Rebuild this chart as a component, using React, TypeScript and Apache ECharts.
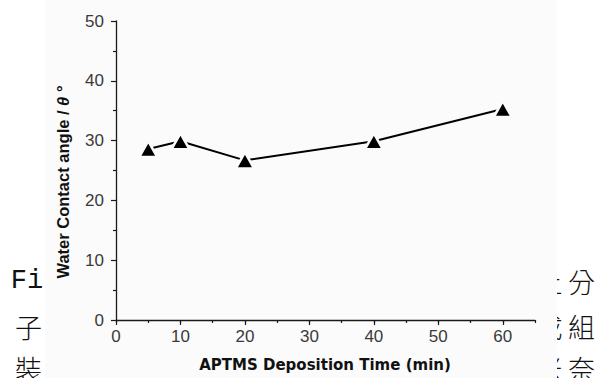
import React, { useEffect, useRef } from "react";
import * as echarts from "echarts";

// ---- data ----
const depositionTimes = [5, 10, 20, 40, 60];
const contactAngles = [28.6, 29.9, 26.7, 29.9, 35.3];
const xMin = 0;
const xMax = 65;
const yMin = 0;
const yMax = 50;
const xTitle = "APTMS Deposition Time (min)";
const yTitlePre = "Water Contact angle / ";
const yTitleTheta = "θ";
const yTitlePost = " °";
// surrounding document text (partly hidden behind the chart picture)
const leftLines = ["Fi", "子", "裝"];
const rightLines = ["分", "組", "奈"];
const hiddenRight = ["上", "成", "米"];

const BG = "#fbfbfb";
const AXIS = "#1a1a1a";

export default function App() {
  const ref = useRef<HTMLDivElement>(null);
  useEffect(() => {
    if (!ref.current) return;
    const chart = echarts.init(ref.current, null, { renderer: "svg" });
    const rowY = [281, 326, 368];
    const cjkFont = '300 27px "Noto Sans CJK TC"';
    const graphics: any[] = [
      {
        type: "rect",
        z: -1,
        silent: true,
        shape: { x: 45, y: 0, width: 512, height: 378 },
        style: { fill: BG },
      },
    ];
    hiddenRight.forEach((t, i) => {
      graphics.push({
        type: "text",
        z: -2,
        silent: true,
        x: 549,
        y: rowY[i],
        style: {
          text: t,
          font: cjkFont,
          fill: "#111",
          align: "center",
          verticalAlign: "middle",
        },
      });
    });
    leftLines.forEach((t, i) => {
      graphics.push({
        type: "text",
        z: 10,
        silent: true,
        x: i === 0 ? 27 : 28.5,
        y: rowY[i],
        style: {
          text: t,
          font: i === 0 ? '27px "Liberation Mono"' : cjkFont,
          fill: "#111",
          align: "center",
          verticalAlign: "middle",
        },
      });
    });
    rightLines.forEach((t, i) => {
      graphics.push({
        type: "text",
        z: 10,
        silent: true,
        x: 581.5,
        y: rowY[i],
        style: {
          text: t,
          font: cjkFont,
          fill: "#111",
          align: "center",
          verticalAlign: "middle",
        },
      });
    });
    graphics.push({
      type: "text",
      z: 10,
      silent: true,
      x: 63,
      y: 182,
      rotation: Math.PI / 2,
      style: {
        text: `{a|${yTitlePre}}{b|${yTitleTheta}}{a|${yTitlePost}}`,
        align: "center",
        verticalAlign: "middle",
        rich: {
          a: { fontSize: 16.5, fontWeight: "bold", fontFamily: "Liberation Sans", fill: "#111" },
          b: { fontSize: 16.5, fontWeight: "bold", fontStyle: "italic", fontFamily: "Liberation Sans", fill: "#111" },
        },
      },
    });
    graphics.push({
      type: "text",
      z: 10,
      silent: true,
      x: 325,
      y: 365,
      style: {
        text: xTitle,
        font: 'bold 15px "DejaVu Sans"',
        fill: "#111",
        align: "center",
        verticalAlign: "middle",
      },
    });

    const labelStyle = {
      fontSize: 17,
      color: "#3a3a3a",
      fontFamily: "Liberation Sans",
    };

    chart.setOption({
      animation: false,
      backgroundColor: "#ffffff",
      grid: { left: 116, right: 73, top: 21, bottom: 58, containLabel: false },
      xAxis: [
        {
          type: "value",
          min: xMin,
          max: xMax,
          interval: 10,
          position: "bottom",
          axisLine: { show: true, onZero: false, lineStyle: { color: AXIS, width: 1.3 } },
          axisTick: { show: true, length: 5, lineStyle: { color: AXIS, width: 1.2 } },
          axisLabel: {
            ...labelStyle,
            margin: 8,
            showMaxLabel: false,
            formatter: (v: number) => (v % 10 === 0 ? String(v) : ""),
          },
          splitLine: { show: false },
        },
        {
          type: "value",
          min: xMin,
          max: xMax,
          interval: 5,
          position: "bottom",
          axisLine: { show: false },
          axisTick: { show: true, length: 3, lineStyle: { color: AXIS, width: 1.2 } },
          axisLabel: { show: false },
          splitLine: { show: false },
        },
      ],
      yAxis: {
        type: "value",
        min: yMin,
        max: yMax,
        interval: 10,
        axisLine: { show: true, lineStyle: { color: AXIS, width: 1.3 } },
        axisTick: { show: true, length: 5, lineStyle: { color: AXIS, width: 1.2 } },
        minorTick: { show: true, splitNumber: 2, length: 3, lineStyle: { color: AXIS, width: 1.2 } },
        axisLabel: { ...labelStyle, margin: 12 },
        splitLine: { show: false },
      },
      graphic: graphics,
      series: [
        {
          type: "line",
          xAxisIndex: 0,
          data: depositionTimes.map((x, i) => [x, contactAngles[i]]),
          symbol: "triangle",
          symbolSize: [18, 16],
          z: 3,
          itemStyle: { color: "#000", borderColor: BG, borderWidth: 2.5 },
          lineStyle: { color: "#000", width: 2 },
        },
      ],
    });
    return () => chart.dispose();
  }, []);
  return (
    <div
      ref={ref}
      style={{ position: "absolute", left: 0, top: 0, width: 608, height: 378 }}
    />
  );
}
